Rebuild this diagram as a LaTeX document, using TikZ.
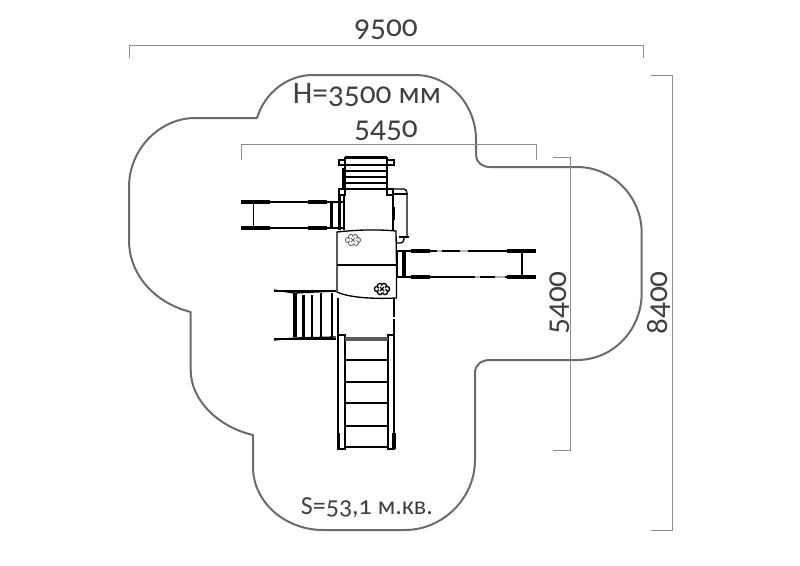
\documentclass[tikz,border=0pt]{standalone}
\usepackage{fontspec}
\setmainfont[Numbers=OldStyle]{Carlito}
\tikzset{
  zone/.style={draw=black!58,line width=1.5pt,line join=round},
  dimline/.style={draw=black!45,line width=0.75pt},
  dimtext/.style={text=black!75,font=\fontsize{23.5}{25}\selectfont,inner sep=0pt},
  labeltext/.style={text=black!75,font=\fontsize{19.5}{24}\selectfont,inner sep=0pt},
  eqthin/.style={draw=black,line width=1pt},
  eqmid/.style={draw=black,line width=1.7pt},
  eqthick/.style={draw=black,line width=3.2pt},
  eqgap/.style={draw=black!30,line width=1.7pt},
  puff/.style={draw=black,fill=white,line width=0.7pt}
}
\begin{document}
\begin{tikzpicture}[x=0.75pt,y=-0.75pt]
\useasboundingbox (0,0) rectangle (800,565);
% safety zone
\draw[zone] (257,118) .. controls (265,92) and (288,75) .. (313,75) -- (415,75)
  .. controls (449,75) and (476,104) .. (476,140) -- (476,155)
  .. controls (476,162) and (482,167) .. (490,167) -- (577,167)
  .. controls (613,167) and (641.7,197) .. (641.7,233) -- (641.7,293)
  .. controls (641.7,330) and (613,360) .. (577,360) -- (490,360)
  .. controls (481,360) and (475,365) .. (475,373) -- (475,460)
  .. controls (475,498) and (443,530) .. (405,530) -- (323,530)
  .. controls (285,530) and (253,502) .. (253,467) -- (253,435)
  .. controls (218,427) and (190.7,400) .. (190.7,370) -- (190.7,312)
  .. controls (155,303) and (129,275) .. (129,240) -- (129,187)
  .. controls (129,149) and (160,118) .. (195,118) -- cycle;
% dimensions
\draw[dimline] (129,58) -- (129,45) -- (643,45) -- (643,58);
\draw[dimline] (241,160) -- (241,144.5) -- (536,144.5) -- (536,160);
\draw[dimline] (553,157) -- (570,157) -- (570,450) -- (553,450);
\draw[dimline] (651,75) -- (672.5,75) -- (672.5,530) -- (651,530);
\node[dimtext] (d9500) at (386,30) {9500};
\node[dimtext] (d5450) at (386,131) {5450};
\node[dimtext,rotate=90] (d5400) at (560,303) {5400};
\node[dimtext,rotate=90] (d8400) at (659,303) {8400};
\node[dimtext] (height) at (367,95) {H=3500 мм};
\node[labeltext] (area) at (367,508) {S=53,1 м.кв.};
% top ladder
\draw[eqmid] (345,157) -- (345,195) (387,157) -- (387,195);
\draw[eqmid] (345,157.5) -- (387,157.5);
\foreach \yy in {165,171,177,183} \draw[eqthin] (345,\yy) -- (387,\yy);
\draw[eqmid] (345,189) -- (387,189);
\draw[eqthin] (339,160) rectangle (345,165) (387,160) rectangle (394,165);
\draw[eqthin] (339,189) rectangle (345,195) (387,189) rectangle (393,195);
\draw[eqmid] (343,168) -- (343,189);
% tower
\draw[eqmid] (339.5,195) -- (339.5,230) (344,195) -- (344,230);
\draw[eqthin] (393,189) -- (393,230);
\draw[eqmid,line width=2pt] (394,207) -- (394,220);
\draw[eqthin] (387,189) -- (404,189) .. controls (406,189) and (407,191) .. (407,194) -- (407,238);
\draw[eqmid] (394,194) -- (408,194);
\draw[eqmid] (399,237) -- (409,237);
\draw[eqthin] (396,243) -- (401,243) .. controls (403,243) and (404,241) .. (404,237);
% left slide
\draw[eqmid] (241,201.7) -- (344,201.7) (241,228) -- (344,228);
\draw[eqthick] (241,201.7) -- (270,201.7) (308,201.7) -- (327,201.7);
\draw[eqthick] (241,228) -- (270,228) (308,228) -- (327,228);
\draw[eqthin,line width=1.2pt] (253.5,201.7) -- (253.5,228);
\draw[eqmid,line width=2.4pt] (331.7,201.7) -- (331.7,228);
% right slide
\draw[eqmid] (397,251) -- (536,251) (397,277) -- (536,277);
\draw[eqgap] (437,251) -- (442,251) (460,251) -- (468,251) (475,277) -- (480,277) (495,277) -- (505,277);
\draw[eqthick] (411,251) -- (430,251) (507,251) -- (536,251);
\draw[eqthick] (411,277) -- (430,277) (507,277) -- (536,277);
\draw[eqthin,line width=1.2pt] (521.7,251) -- (521.7,277);
\draw[eqmid,line width=2.4pt] (404,251) -- (404,277);
\draw[eqthin] (397,251) -- (397,277);
% left stairs
\draw[eqmid] (274,290.7) -- (336,290.7) (274,339) -- (336,339);
\draw[eqthin] (274,290) -- (295,293) -- (336,291);
\draw[eqthin] (274,340) -- (295,338) -- (336,337);
\draw[eqmid,line width=3pt] (295,293) -- (295,337);
\draw[eqmid] (303.5,295) -- (303.5,337) (312,295) -- (312,337) (321,293) -- (321,337);
\draw[eqmid,line width=2.2pt] (332,293) -- (332,337);
% tower lower sides
\draw[eqmid] (338,298) -- (338,336);
\draw[eqmid,dash pattern=on 14pt off 1.5pt] (394,298) -- (394,335);
% bottom ladder
\draw[eqmid] (338,335) rectangle (345,449);
\draw[eqmid] (387.7,335) rectangle (394,449);
\draw[draw=black!65,line width=2.4pt] (345,339) -- (387.7,339);
\foreach \yy in {360,382,403,426} \draw[eqmid] (345,\yy) -- (387.7,\yy);
\draw[eqmid] (345,447) -- (387.7,447);
\draw[eqmid,line width=2.4pt] (338.5,433) -- (338.5,449) (394,433) -- (394,449);
% roof panels
\draw[eqthin,fill=white] (337,232) .. controls (355,230) and (375,229) .. (396,231)
  -- (396.5,265) -- (396.5,298) .. controls (375,299) and (350,298) .. (337,292) -- cycle;
\draw[eqmid] (337,265) -- (396.5,265);
% clouds
\foreach \c/\dx/\dy in {1/-5/0,2/-2/-3,3/2/-3,4/5/0,5/3/3,6/-2/3}{
  \draw[puff,draw=black!60] (353+\dx,240+\dy) circle (2.6);
  \draw[puff,line width=1pt] (382+\dx,289+\dy) circle (2.6);
}
\fill[white] (353,240) circle (3.5);
\fill[white] (382,289) circle (3.5);
\draw[black!60,line width=0.6pt] (351,238) -- (355,242) (355,238) -- (351,242);
\draw[line width=0.9pt] (380,287) -- (384,291) (384,287) -- (380,291);
\end{tikzpicture}
\end{document}
